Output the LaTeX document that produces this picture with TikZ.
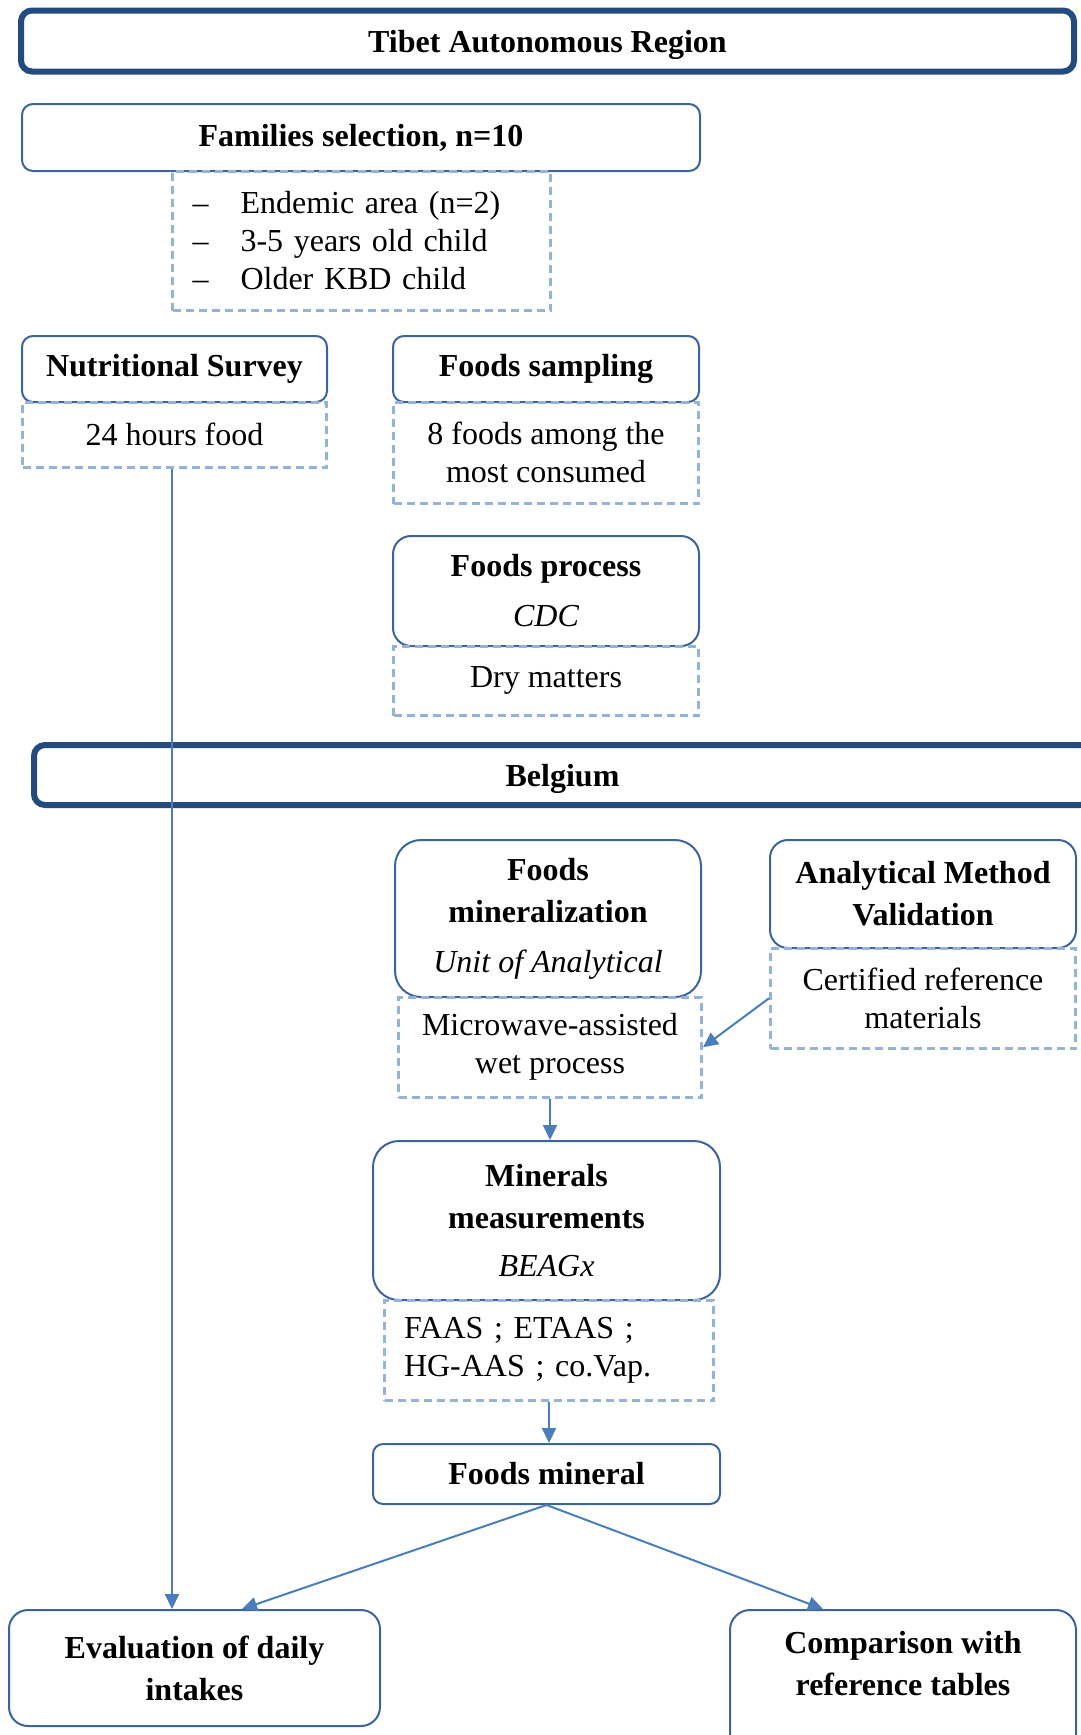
\documentclass[tikz,border=0pt]{standalone}
\usepackage{fontspec}
\setmainfont{Liberation Serif}
\usetikzlibrary{arrows.meta}
\definecolor{regionblue}{RGB}{35,75,128}
\definecolor{boxblue}{RGB}{60,100,155}
\definecolor{dashblue}{RGB}{149,179,215}
\definecolor{arrowblue}{RGB}{74,126,187}
\newcommand{\critem}{\makebox[48pt][l]{–}}

\begin{document}
\begin{tikzpicture}[x=1pt,y=-1pt,
  region/.style={draw=regionblue,line width=6pt,rounded corners=11pt,text depth=0pt,
    font=\bfseries\fontsize{32}{42}\selectfont},
  head/.style={draw=boxblue,line width=2pt,rounded corners=#1,align=center,inner sep=0pt,
    font=\bfseries\fontsize{32}{42}\selectfont},
  head/.default=11pt,
  note/.style={draw=dashblue,line width=3pt,dash pattern=on 8pt off 5pt,align=center,
    inner sep=0pt,font=\fontsize{32}{38}\selectfont},
  flow/.style={draw=arrowblue,line width=2pt,-{Triangle[length=15pt,width=14pt]}}]
  \useasboundingbox (0,0) rectangle (1081,1735);

  \node[region,minimum width=1053,minimum height=61] (tibet) at (547.5,41) {Tibet Autonomous Region};
  \node[head,minimum width=678,minimum height=67] (families) at (361,137.5) {Families selection, n=10};
  \node[head,minimum width=305,minimum height=66] (survey) at (174.5,369) {Nutritional Survey};
  \node[head,minimum width=306,minimum height=66] (sampling) at (546,369) {Foods sampling};
  \node[head=18pt,minimum width=306,minimum height=110] (process) at (546,591)
    {Foods process\\[8pt]{\mdseries\itshape CDC}};

  \node[region,minimum width=1057,minimum height=60] (belgium) at (562.5,775) {Belgium};
  \node[head=26pt,minimum width=306,minimum height=157] (mineralize) at (548,918.5)
    {Foods\\mineralization\\[8pt]{\mdseries\itshape Unit of Analytical}};
  \node[head=18pt,minimum width=306,minimum height=108] (validation) at (923,894)
    {Analytical Method\\Validation};
  \node[head=26pt,minimum width=347,minimum height=159] (measure) at (546.5,1220.5)
    {Minerals\\measurements\\[6pt]{\mdseries\itshape BEAGx}};
  \node[head=10pt,minimum width=347,minimum height=60] (mineral) at (546.5,1474) {Foods mineral};
  \node[head=19pt,minimum width=371,minimum height=116] (intakes) at (194.5,1668)
    {Evaluation of daily\\intakes};
  \node[head=20pt,minimum width=346,minimum height=150] (tables) at (903,1685)
    {Comparison with\\reference tables\rule[-44pt]{0pt}{44pt}};

  \node[note,align=left,text width=338,minimum width=378,minimum height=139.5] (famcrit) at (361.5,240.75)
    {\critem Endemic area (n=2)\\\critem 3-5 years old child\\\critem Older KBD child};
  \node[note,minimum width=304,minimum height=65.5] (recall) at (174.5,434.75) {24 hours food};
  \node[note,minimum width=305,minimum height=101.5] (foodlist) at (546,452.75)
    {8 foods among the\\most consumed};
  \node[note,minimum width=305,minimum height=69.5] (drymatter) at (546,680.75) {Dry matters};
  \node[note,minimum width=303,minimum height=100.5] (wetproc) at (550,1047.25)
    {Microwave-assisted\\wet process};
  \node[note,minimum width=305,minimum height=100.5] (crm) at (923,998.25)
    {Certified reference\\materials};
  \node[note,align=left,text width=290,minimum width=329,minimum height=100.5] (techniques) at (549,1350.25)
    {FAAS ; ETAAS ;\\HG-AAS ; co.Vap.};

  \draw[flow] ([xshift=-2.5pt]recall.south) -- ([xshift=-2.5pt]recall.south |- intakes.north);
  \draw[flow] (crm.west) -- (wetproc.east);
  \draw[flow] (wetproc.south) -- (wetproc.south |- measure.north);
  \draw[flow] (techniques.south) -- (techniques.south |- mineral.north);
  \draw[flow] (mineral.south) -- ([xshift=47.5pt]intakes.north);
  \draw[flow] (mineral.south) -- ([xshift=-80pt]tables.north);
\end{tikzpicture}
\end{document}
